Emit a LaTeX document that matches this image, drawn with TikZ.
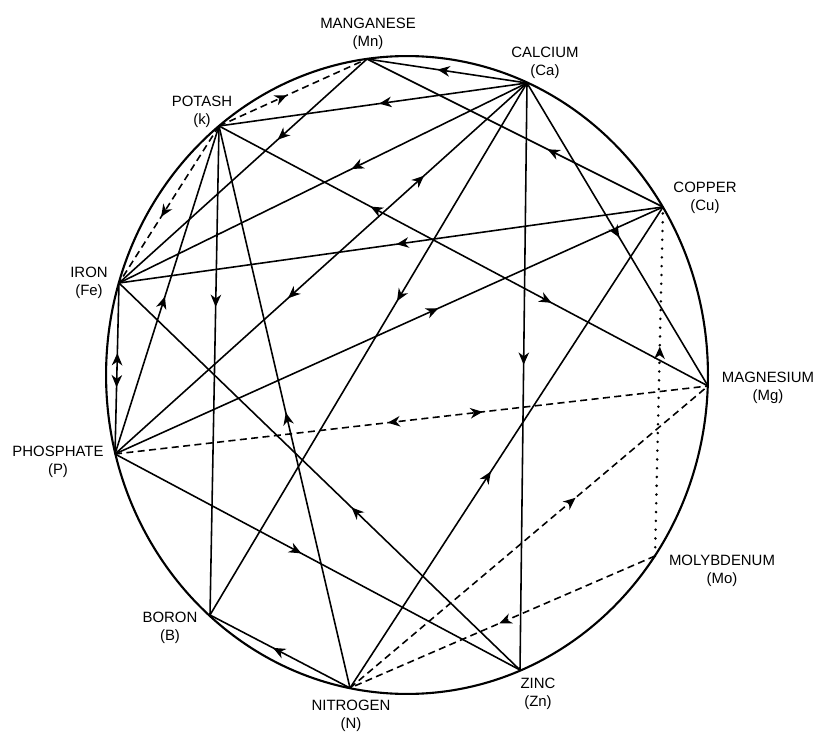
\documentclass[tikz,border=0pt]{standalone}
\usepackage{fontspec}
\setmainfont{Liberation Sans}
\usetikzlibrary{arrows.meta,decorations.markings}

\tikzset{
  >={Stealth[length=7pt,width=6pt,inset=2.2pt]},
  rim/.style={line width=1.2pt},
  antag/.style={line width=0.9pt},
  stim/.style={line width=0.9pt, dash pattern=on 4pt off 2.5pt},
  dotline/.style={line width=1.6pt, line cap=round, dash pattern=on 0pt off 5pt},
  fwd/.style={postaction={decorate,decoration={markings,
      mark=at position #1 with {\pgfsetdash{}{0pt}\pgfsetlinewidth{0.9pt}\arrow{>}}}}},
  bwd/.style={postaction={decorate,decoration={markings,
      mark=at position #1 with {\pgfsetdash{}{0pt}\pgfsetlinewidth{0.9pt}\arrowreversed{>}}}}},
  elem/.style={font=\fontsize{8.5}{10.5}\selectfont, align=center, inner sep=0pt}
}

\begin{document}
\begin{tikzpicture}[x=0.02cm, y=-0.02cm]
\path[use as bounding box, fill=white] (0,0) rectangle (818,733);

\draw[rim] (407,375) ellipse [x radius=6.02cm, y radius=6.38cm];

\coordinate (mn) at (367,59);
\coordinate (ca) at (527,83);
\coordinate (cu) at (663,207);
\coordinate (mg) at (708,386);
\coordinate (mo) at (655,556);
\coordinate (zn) at (520,670);
\coordinate (n)  at (350,688);
\coordinate (b)  at (210,615);
\coordinate (p)  at (115,454);
\coordinate (fe) at (119,283);
\coordinate (k)  at (219,126);

\node[elem] (mnlab) at (368,34)  {MANGANESE\\(Mn)};
\node[elem] (calab) at (545,63)  {CALCIUM\\(Ca)};
\node[elem] (culab) at (705,198) {COPPER\\(Cu)};
\node[elem] (mglab) at (768,388) {MAGNESIUM\\(Mg)};
\node[elem] (molab) at (722,571) {MOLYBDENUM\\(Mo)};
\node[elem] (znlab) at (538,694) {ZINC\\(Zn)};
\node[elem] (nlab)  at (351,716) {NITROGEN\\(N)};
\node[elem] (blab)  at (170,628) {BORON\\(B)};
\node[elem] (plab)  at (58,462)  {PHOSPHATE\\(P)};
\node[elem] (felab) at (89,283)  {IRON\\(Fe)};
\node[elem] (klab)  at (202,112) {POTASH\\(k)};

\draw[antag, fwd=0.56] (ca) -- (mn);
\draw[antag, fwd=0.48] (ca) -- (k);
\draw[antag, fwd=0.43] (ca) -- (fe);
\draw[antag, fwd=0.75, bwd=0.42] (p) -- (ca);
\draw[antag, fwd=0.41] (ca) -- (b);
\draw[antag, fwd=0.48] (ca) -- (zn);
\draw[antag, fwd=0.51] (ca) -- (mg);
\draw[antag, fwd=0.39] (cu) -- (mn);
\draw[antag, fwd=0.36] (mn) -- (fe);
\draw[antag, fwd=0.49] (cu) -- (fe);
\draw[antag, fwd=0.59] (p) -- (cu);
\draw[antag, fwd=0.45] (n) -- (cu);
\draw[antag, fwd=0.68, bwd=0.31] (k) -- (mg);
\draw[antag, fwd=0.48] (p) -- (k);
\draw[antag, fwd=0.37] (k) -- (b);
\draw[antag, fwd=0.49] (n) -- (k);
\draw[antag, fwd=0.61, bwd=0.41] (fe) -- (p);
\draw[antag, fwd=0.42] (zn) -- (fe);
\draw[antag, fwd=0.46] (p) -- (zn);
\draw[antag, fwd=0.55] (n) -- (b);

\draw[stim, fwd=0.46] (k) -- (mn);
\draw[stim, fwd=0.58] (k) -- (fe);
\draw[stim, fwd=0.62, bwd=0.46] (p) -- (mg);
\draw[stim, fwd=0.63] (n) -- (mg);
\draw[stim, fwd=0.51] (mo) -- (n);
\draw[dotline, fwd=0.60] (mo) -- (cu);
\end{tikzpicture}
\end{document}
